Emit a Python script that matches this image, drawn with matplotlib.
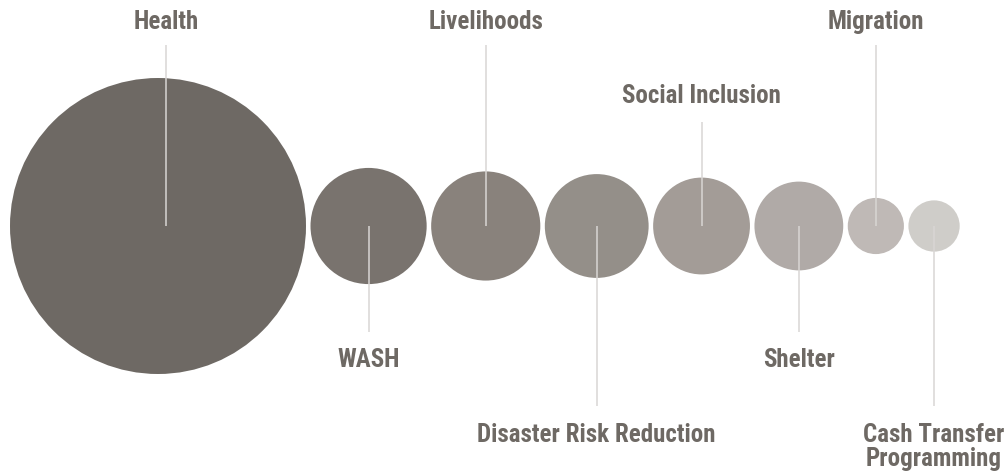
import numpy as np
import matplotlib.pyplot as plt
from matplotlib import font_manager
from matplotlib.patches import Circle

# sectors, relative size (area)
sectors = ["Health", "WASH", "Livelihoods", "Disaster Risk Reduction",
           "Social Inclusion", "Shelter", "Migration", "Cash Transfer\nProgramming"]
values = [100, 15.4, 13.6, 12.3, 10.7, 9.0, 3.6, 3.0]
colors = ["#6e6964", "#79736e", "#89827c", "#948f89",
          "#a39c97", "#b0aaa7", "#bfb9b6", "#cfcdc9"]

# pick a condensed bold face if one is around
fonts = font_manager.fontManager.ttflist
names = {f.name for f in fonts}
stretch = 'normal'
if 'Roboto Condensed' in names:
    family = 'Roboto Condensed'
elif any(f.name == 'DejaVu Sans' and f.stretch == 'condensed' for f in fonts):
    family, stretch = 'DejaVu Sans', 'condensed'
else:
    family = 'Roboto'
plt.rcParams['font.family'] = [family, 'DejaVu Sans']

TEXT = "#6e6964"
LINE = "#d9d6d4"

fig = plt.figure(figsize=(10.05, 4.75), dpi=100)
ax = fig.add_axes([0, 0, 1, 1])
ax.set_xlim(0, 1005)
ax.set_ylim(475, 0)
ax.set_aspect('equal')
ax.axis('off')

rmax, gap, cy = 148, 4.5, 226
radii = rmax * np.sqrt(np.array(values) / max(values))

# where each label sits: (line end, first baseline), alternating up/down
slots = {'top': (45, 29), 'mid': (122, 103), 'near': (332, 367), 'far': (406, 442)}
order = ['top', 'near', 'top', 'far', 'mid', 'near', 'top', 'far']

x = 10
for i, (name, r, c) in enumerate(zip(sectors, radii, colors)):
    cx = x + r
    x = cx + r + gap
    ax.add_patch(Circle((cx, cy), r, color=c, lw=0, zorder=1))
    lx = cx + (8 if i == 0 else 0)
    end, base = slots[order[i]]
    ax.plot([lx, lx], [cy, end], color=LINE, lw=1.1, zorder=2, solid_capstyle='butt')
    for k, line in enumerate(name.split("\n")):
        ax.text(lx, base + k * 24, line, ha='center', va='baseline',
                fontsize=18, fontweight='bold', fontstretch=stretch, color=TEXT)

fig.savefig("out.png", dpi=100, facecolor='white')
